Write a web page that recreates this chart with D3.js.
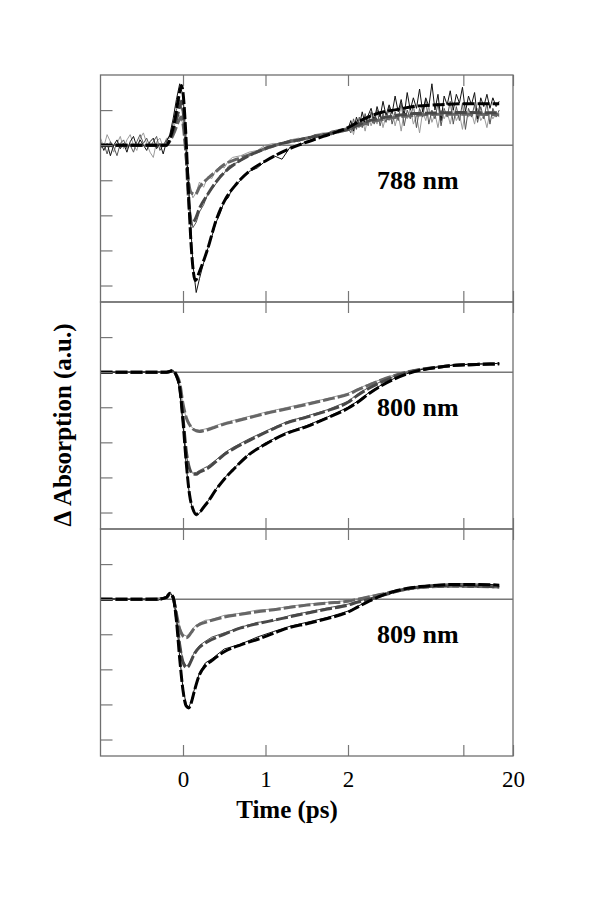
<!DOCTYPE html>
<html><head><meta charset="utf-8">
<script src="https://cdn.jsdelivr.net/npm/d3@7"></script>
<style>body{margin:0;background:#fff}</style>
</head><body><svg id="c" width="601" height="899"></svg>
<script>
// ---------- DATA ----------
const xTickValues = [0, 1, 2, 10, 20];
const xTickLabels = ["0", "1", "2", "", "20"];
const yTickValues = [-4, -3, -2, -1, 0, 1];
const panelLabels = ["788 nm", "800 nm", "809 nm"];

// Panel 1 (788 nm) measured traces
const p1T = [-1.0,-0.96,-0.92,-0.88,-0.84,-0.8,-0.76,-0.72,-0.68,-0.64,-0.6,-0.56,-0.52,-0.48,-0.44,-0.4,-0.36,-0.32,-0.28,-0.24,-0.2,
  -0.16,-0.12,-0.08,-0.04,0,0.04,0.08,0.12,0.16,0.2,0.25,0.3,0.35,0.4,0.45,0.5,0.55,0.6,0.7,0.8,0.9,1.0,1.1,1.2,1.3,1.4,1.5,1.6,1.7,1.8,1.9,
  2.0,2.08,2.16,2.25,2.34,2.44,2.54,2.65,2.76,2.88,3.0,3.13,3.26,3.4,3.55,3.7,3.86,4.03,4.2,4.38,4.57,4.77,4.98,5.2,5.43,5.67,5.92,6.18,6.45,6.73,7.02,7.33,7.65,7.98,8.33,8.69,9.07,9.47,9.88,10.3,10.75,11.2,11.7,12.2,12.75,13.3,13.9,14.5,15.1,15.8,16.5];
const p1DataBlack = [0.1,-0.15,0.05,-0.3,0.0,0.15,-0.1,0.05,-0.2,0.1,0.25,-0.05,0.15,0.0,-0.15,0.1,0.2,-0.1,0.05,-0.25,0.1,
  0.3,0.75,1.3,1.75,1.4,0.1,-1.7,-3.4,-4.2,-3.8,-3.35,-2.95,-2.6,-2.2,-1.95,-1.6,-1.5,-1.2,-1.0,-0.75,-0.65,-0.45,-0.3,-0.4,-0.05,0.0,0.1,0.2,0.3,0.3,0.45,
  0.45,0.7,0.4,0.8,0.55,0.95,0.6,0.85,1.05,0.7,1.1,0.8,1.25,0.85,1.15,0.9,1.4,0.95,1.3,0.85,1.5,1.0,1.35,1.05,1.6,0.95,1.35,1.1,1.75,1.0,1.45,0.7,1.4,1.15,1.55,1.0,1.45,1.2,1.65,0.95,1.4,1.15,1.5,0.75,1.35,1.1,1.45,1.05,1.35,1.1,1.25];
const p1DataDark = [-0.1,0.05,-0.25,0.1,-0.05,-0.3,0.05,0.15,-0.1,0.0,-0.2,0.1,0.3,0.05,0.2,-0.05,0.1,0.25,-0.15,0.0,0.15,
  0.25,0.6,1.0,1.3,0.9,-0.2,-1.7,-2.35,-2.2,-1.9,-1.7,-1.4,-1.25,-1.1,-0.85,-0.8,-0.6,-0.55,-0.45,-0.3,-0.2,-0.05,0.0,0.05,0.15,0.1,0.2,0.3,0.25,0.4,0.45,
  0.5,0.35,0.75,0.45,0.8,0.5,0.9,0.55,0.95,0.6,1.0,0.55,0.9,0.65,1.1,0.6,0.95,0.7,1.2,0.55,1.0,0.75,1.15,0.5,1.05,0.8,1.3,0.6,1.0,0.75,1.2,0.55,1.05,0.8,1.25,0.6,1.1,0.7,1.2,0.45,1.05,0.8,1.15,0.65,1.1,0.75,1.2,0.6,1.05,0.8,1.0];
const p1DataLight = [0.2,-0.05,0.3,0.1,-0.2,0.05,0.25,-0.1,0.15,0.3,0.0,-0.15,0.2,0.35,0.05,-0.2,-0.35,0.1,0.2,-0.05,0.2,
  0.2,0.45,0.75,0.85,0.6,-0.3,-1.2,-1.5,-1.35,-1.05,-1.2,-0.9,-0.95,-0.7,-0.6,-0.65,-0.45,-0.35,-0.3,-0.2,-0.15,0.0,0.05,0.0,0.15,0.2,0.15,0.3,0.35,0.3,0.45,
  0.4,0.6,0.3,0.7,0.5,0.75,0.4,0.85,0.55,0.8,0.6,0.95,0.5,0.85,0.7,1.0,0.55,0.9,0.4,0.95,0.75,1.05,0.6,0.85,0.35,0.95,0.7,1.1,0.65,0.9,0.5,1.0,0.75,0.95,0.6,1.05,0.7,0.9,0.45,1.0,0.8,0.95,0.6,1.05,0.7,0.85,0.5,0.95,0.75,0.9,0.8];
// Panel 1 fits
const p1FitT = [-1,-0.2,-0.15,-0.1,-0.05,-0.02,0,0.03,0.06,0.1,0.15,0.2,0.3,0.4,0.5,0.65,0.8,1.0,1.2,1.4,1.7,2.0,2.5,3,4,5,7,10,16.5];
const p1FitBlack = [0,0,0.25,0.7,1.4,1.7,1.5,0.5,-1.0,-2.9,-3.86,-3.6,-2.95,-2.15,-1.6,-1.1,-0.75,-0.45,-0.2,0.0,0.25,0.5,0.75,0.9,1.02,1.1,1.15,1.18,1.18];
const p1FitDark = [0,0,0.2,0.55,1.0,1.25,1.0,0.1,-1.3,-2.25,-2.1,-1.8,-1.4,-1.05,-0.78,-0.5,-0.3,-0.1,0.05,0.15,0.3,0.45,0.65,0.75,0.85,0.9,0.92,0.93,0.92];
const p1FitLight = [0,0,0.15,0.4,0.7,0.8,0.6,-0.1,-0.9,-1.35,-1.4,-1.2,-0.95,-0.75,-0.55,-0.4,-0.28,-0.1,0.05,0.15,0.3,0.45,0.6,0.7,0.8,0.85,0.88,0.88,0.87];

// Panel 2 (800 nm)
const p2T = [-1,-0.2,-0.12,-0.08,-0.04,0,0.04,0.08,0.12,0.16,0.2,0.25,0.3,0.4,0.5,0.6,0.8,1.0,1.25,1.5,1.75,2.0,2.3,2.7,3.2,3.8,4.5,5.5,7,9,12,16.5];
const p2FitBlack = [0,0,0.04,-0.1,-0.45,-1.4,-2.6,-3.5,-3.9,-4.05,-4.0,-3.85,-3.7,-3.35,-3.05,-2.8,-2.35,-2.05,-1.75,-1.55,-1.3,-1.03,-0.85,-0.6,-0.38,-0.2,-0.06,0.06,0.14,0.2,0.22,0.24];
const p2FitDark = [0,0,0.04,-0.1,-0.42,-1.3,-2.25,-2.75,-2.9,-2.91,-2.85,-2.8,-2.74,-2.55,-2.35,-2.2,-1.95,-1.72,-1.45,-1.28,-1.1,-0.86,-0.65,-0.45,-0.28,-0.14,-0.02,0.07,0.14,0.2,0.22,0.24];
const p2FitLight = [0,0,0.04,-0.08,-0.3,-0.9,-1.3,-1.5,-1.62,-1.67,-1.69,-1.67,-1.64,-1.56,-1.48,-1.42,-1.3,-1.18,-1.05,-0.92,-0.78,-0.63,-0.5,-0.36,-0.22,-0.1,0.0,0.08,0.14,0.2,0.22,0.24];
const p2DataBlack = [0,0.01,0.05,-0.08,-0.5,-1.5,-2.7,-3.55,-3.95,-4.1,-4.02,-3.85,-3.68,-3.33,-3.02,-2.78,-2.33,-2.02,-1.72,-1.52,-1.28,-1.0,-0.82,-0.57,-0.36,-0.18,-0.05,0.07,0.15,0.21,0.23,0.25];
const p2DataDark = [0,-0.01,0.05,-0.08,-0.45,-1.4,-2.35,-2.8,-2.88,-2.86,-2.8,-2.74,-2.68,-2.5,-2.3,-2.15,-1.9,-1.68,-1.42,-1.25,-1.07,-0.83,-0.62,-0.42,-0.26,-0.12,0.0,0.08,0.15,0.21,0.23,0.25];
const p2DataLight = [0,0.01,0.05,-0.06,-0.32,-0.95,-1.32,-1.5,-1.6,-1.64,-1.65,-1.63,-1.6,-1.52,-1.44,-1.38,-1.26,-1.14,-1.01,-0.88,-0.75,-0.6,-0.47,-0.33,-0.2,-0.08,0.02,0.09,0.15,0.21,0.23,0.25];

// Panel 3 (809 nm)
const p3T = [-1,-0.3,-0.2,-0.16,-0.12,-0.08,-0.04,0,0.04,0.07,0.1,0.14,0.2,0.27,0.35,0.5,0.7,0.9,1.1,1.3,1.5,1.75,2.0,2.3,2.7,3.2,3.8,4.6,5.5,7,9,12,16.5];
const p3FitBlack = [0,0,0.05,0.17,0.05,-0.6,-1.7,-2.6,-3.05,-3.1,-2.95,-2.6,-2.15,-1.9,-1.75,-1.5,-1.3,-1.15,-0.97,-0.8,-0.7,-0.55,-0.37,-0.22,-0.05,0.1,0.22,0.31,0.36,0.4,0.42,0.42,0.4];
const p3FitDark = [0,0,0.05,0.15,0.05,-0.5,-1.3,-1.8,-1.95,-1.9,-1.75,-1.55,-1.37,-1.25,-1.15,-1.0,-0.82,-0.7,-0.6,-0.5,-0.4,-0.28,-0.17,-0.08,0.0,0.1,0.2,0.29,0.34,0.37,0.38,0.37,0.35];
const p3FitLight = [0,0,0.05,0.15,0.05,-0.4,-0.85,-1.05,-1.1,-1.05,-0.95,-0.82,-0.72,-0.66,-0.6,-0.51,-0.43,-0.36,-0.3,-0.23,-0.17,-0.11,-0.06,0.0,0.07,0.14,0.22,0.29,0.33,0.36,0.37,0.36,0.35];
const p3DataBlack = [0.02,-0.03,0.07,0.2,0.08,-0.55,-1.65,-2.55,-3.0,-3.08,-2.9,-2.55,-2.1,-1.82,-1.7,-1.42,-1.28,-1.08,-0.92,-0.77,-0.66,-0.52,-0.34,-0.2,-0.03,0.12,0.24,0.33,0.38,0.42,0.44,0.43,0.41];
const p3DataDark = [-0.02,0.03,0.06,0.18,0.07,-0.45,-1.25,-1.75,-1.9,-1.86,-1.7,-1.5,-1.32,-1.2,-1.08,-0.96,-0.8,-0.66,-0.62,-0.46,-0.37,-0.25,-0.14,-0.06,0.02,0.12,0.21,0.3,0.35,0.37,0.39,0.38,0.36];
const p3DataLight = [0.03,-0.02,0.06,0.18,0.07,-0.35,-0.8,-1.0,-1.05,-1.0,-0.9,-0.78,-0.68,-0.6,-0.58,-0.46,-0.4,-0.31,-0.28,-0.2,-0.14,-0.09,-0.04,0.02,0.09,0.16,0.23,0.3,0.34,0.37,0.38,0.37,0.36];

// ---------- BUILD ----------
const panels = [
  {label: panelLabels[0], dataT: p1T, data: [p1DataBlack, p1DataDark, p1DataLight], fitT: p1FitT, fits: [p1FitBlack, p1FitDark, p1FitLight]},
  {label: panelLabels[1], dataT: p2T, data: [p2DataBlack, p2DataDark, p2DataLight], fitT: p2T, fits: [p2FitBlack, p2FitDark, p2FitLight]},
  {label: panelLabels[2], dataT: p3T, data: [p3DataBlack, p3DataDark, p3DataLight], fitT: p3T, fits: [p3FitBlack, p3FitDark, p3FitLight]}
];
const dataColors = ["#111", "#555", "#9a9a9a"];
const fitColors = ["#000", "#484848", "#666"];

const svg = d3.select("#c");
svg.append("rect").attr("width", 601).attr("height", 899).attr("fill", "#fff");

const left = 100.5, right = 513, top0 = 75, panelH = 227;
const FONT = "'Liberation Serif', 'Times New Roman', serif";
// piecewise axis: linear up to 2 ps, logarithmic 2..20 ps
const u = t => t <= 2 ? t : 2 + 2 * Math.log10(t / 2);
const xU = d3.scaleLinear().domain([-1, 4]).range([left, right]);
const x = t => xU(u(t));

panels.forEach((p, i) => {
  const top = top0 + i * panelH, bottom = top + panelH;
  const y = d3.scaleLinear().domain([-4.47, 2]).range([bottom, top]);
  const g = svg.append("g");
  const clipId = "clip" + i;
  svg.append("clipPath").attr("id", clipId).append("rect")
    .attr("x", left).attr("y", top).attr("width", right - left).attr("height", panelH);

  // zero line
  g.append("line").attr("x1", left).attr("x2", right).attr("y1", y(0)).attr("y2", y(0))
    .attr("stroke", "#333").attr("stroke-width", 1);

  const lineData = d3.line().x(d => x(d[0])).y(d => y(d[1]));
  const lineFit = d3.line().x(d => x(d[0])).y(d => y(d[1])).curve(d3.curveMonotoneX);
  const plot = g.append("g").attr("clip-path", `url(#${clipId})`);
  // measured traces (thin), light first
  [2, 1, 0].forEach(k => {
    plot.append("path").datum(d3.zip(p.dataT, p.data[k]))
      .attr("d", lineData).attr("fill", "none")
      .attr("stroke", dataColors[k]).attr("stroke-width", 1);
  });
  // fits (thick dashed)
  [2, 1, 0].forEach(k => {
    plot.append("path").datum(d3.zip(p.fitT, p.fits[k]))
      .attr("d", lineFit).attr("fill", "none")
      .attr("stroke", fitColors[k]).attr("stroke-width", 3)
      .attr("stroke-dasharray", "12,3");
  });

  // axes
  const yAx = g.append("g").attr("transform", `translate(${left},0)`)
    .call(d3.axisLeft(y).tickValues(yTickValues).tickSize(-12).tickFormat(""));
  const topAx = g.append("g").attr("transform", `translate(0,${top})`)
    .call(d3.axisTop(xU).tickValues(xTickValues.map(u)).tickSize(-11).tickFormat(""));
  const isLast = i === panels.length - 1;
  const botAx = g.append("g").attr("transform", `translate(0,${bottom})`)
    .call(d3.axisBottom(xU).tickValues(xTickValues.map(u)).tickSize(-11).tickPadding(15)
      .tickFormat((d, j) => isLast ? xTickLabels[j] : ""));
  [yAx, topAx, botAx].forEach(a => {
    a.select(".domain").remove();
    a.selectAll("line").attr("stroke", "#777").attr("stroke-width", 1.2);
    a.selectAll("text").attr("font-family", FONT).attr("font-size", 23).attr("fill", "#000");
  });

  // frame
  g.append("rect").attr("x", left).attr("y", top).attr("width", right - left).attr("height", panelH)
    .attr("fill", "none").attr("stroke", "#6f6f6f").attr("stroke-width", 1.3);

  // panel label
  g.append("text").attr("x", 377).attr("y", top + 114).text(p.label)
    .attr("font-family", FONT).attr("font-weight", "bold").attr("font-size", 26).attr("fill", "#000");
});

// axis titles
svg.append("text").attr("x", 287).attr("y", 818).attr("text-anchor", "middle")
  .attr("font-family", FONT).attr("font-weight", "bold").attr("font-size", 25).text("Time (ps)");
svg.append("text").attr("transform", "translate(71,425) rotate(-90)").attr("text-anchor", "middle")
  .attr("font-family", FONT).attr("font-weight", "bold").attr("font-size", 25).text("Δ Absorption (a.u.)");
</script>
</body></html>
